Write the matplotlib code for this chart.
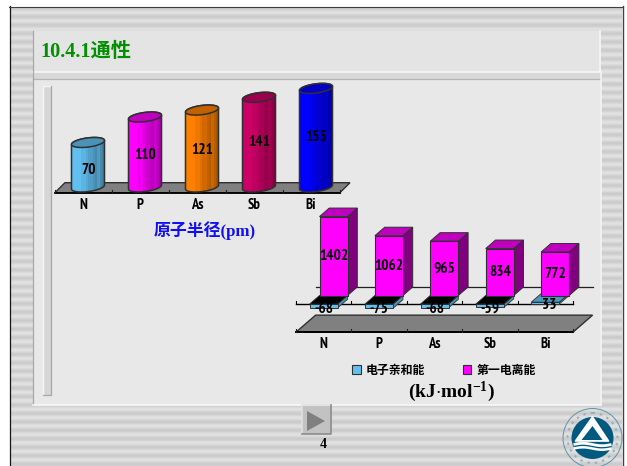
import numpy as np
import matplotlib
matplotlib.use("Agg")
import matplotlib.pyplot as plt
from matplotlib import font_manager as fm
from matplotlib.patches import Polygon, Rectangle, Circle, Patch
from matplotlib.colors import to_rgb

W, H = 627, 466

elements = ["N", "P", "As", "Sb", "Bi"]
radius_pm = [70, 110, 121, 141, 155]
electron_affinity = [-68, -75, -68, -59, 33]
first_ionization = [1402, 1062, 965, 834, 772]

cyl_colors = ["#62c0f0", "#ff00ff", "#ff8000", "#cc0066", "#0000ff"]
affinity_color = "#62c0f0"
ionization_color = "#ff00ff"

title_text = "10.4.1通性"
radius_caption = "原子半径(pm)"
affinity_name = "电子亲和能"
ionization_name = "第一电离能"
page_number = "4"

installed = {f.name for f in fm.fontManager.ttflist}


def first_installed(*names):
    for name in names:
        if name in installed:
            return name
    return "Liberation Serif"


NARROW = first_installed("PT Sans Narrow", "Liberation Sans Narrow")
MIXED = ["Liberation Serif", "Noto Sans CJK SC"]
CJK = ["Noto Sans CJK SC", "DejaVu Sans"]
plt.rcParams["mathtext.fontset"] = "custom"
plt.rcParams["mathtext.rm"] = "Liberation Serif:bold"
plt.rcParams["mathtext.default"] = "rm"


def shade(color, factor):
    return tuple(c * factor for c in to_rgb(color))


def pixel_axes(fig, left, top, right, bottom, zorder):
    ax = fig.add_axes([left / W, 1 - bottom / H, (right - left) / W, (bottom - top) / H], zorder=zorder)
    ax.axis("off")
    ax.patch.set_alpha(0)
    return ax


fig = plt.figure(figsize=(W / 100, H / 100), dpi=100, facecolor="white")

# ---- slide backdrop: striped frame, panels and bevels (pixel coordinates) ----
bg = pixel_axes(fig, 0, 0, W, H, 0)
bg.set_xlim(0, W)
bg.set_ylim(H, 0)
rows = np.arange(H)
stripes = 0.84 + 0.045 * np.cos(2 * np.pi * (rows - 35 - 4.3) / 8.57)
bg.imshow(np.repeat(stripes[:, None], 4, axis=1), cmap="gray", vmin=0, vmax=1,
          extent=[10, 622, 466, 7], aspect="auto", interpolation="bilinear")
bg.set_xlim(0, W)
bg.set_ylim(H, 0)
bg.plot([9.5, 9.5], [6, H], color="#151515", lw=0.9)
bg.plot([9, 622.5], [6.5, 6.5], color="#404040", lw=0.8)
bg.plot([622.5, 622.5], [6, H], color="#404040", lw=1.0)
bg.add_patch(Rectangle((33, 31), 566, 40, fc="#e4e4e4", ec="none"))
bg.plot([33, 600], [71.5, 71.5], color="#f8f8f8", lw=1.2)
bg.plot([600, 600], [31, 71], color="#f8f8f8", lw=1.2)
bg.add_patch(Rectangle((33, 72), 568, 7, fc="#d8d8d8", ec="none"))
bg.plot([33, 601], [79, 79], color="#b4b4b4", lw=0.9)
bg.add_patch(Rectangle((33, 80), 568, 325, fc="#e8e8e8", ec="none"))
bg.plot([33, 33], [31, 405], color="#a8a8a8", lw=0.9)
bg.plot([33, 601], [405, 405], color="#f8f8f8", lw=1.2)
bg.plot([601, 601], [72, 405], color="#f4f4f4", lw=1.2)
bg.add_patch(Rectangle((43, 86), 7.5, 309, fc="#d6d6d6", ec="none"))
bg.plot([43, 43, 50.5], [395, 86, 86], color="#f6f6f6", lw=1)
bg.plot([43, 50.5, 50.5], [395, 395, 86], color="#a8a8a8", lw=0.9)

# navigation button
bg.add_patch(Rectangle((302, 405), 29, 29, fc="#c2c2c2", ec="none"))
bg.plot([302, 302, 331], [434, 405, 405], color="#e0e0e0", lw=1.2)
bg.plot([302, 331, 331], [434, 434, 405], color="#8c8c8c", lw=1.2)
bg.add_patch(Polygon([(307, 411), (307, 431), (325, 421)], fc="#808080", ec="none"))

# university emblem
LOGO = "#005a80"
cx, cy = 592.5, 438
bg.add_patch(Circle((cx, cy), 29.5, fc="none", ec="#5f93ad", lw=0.7))
bg.add_patch(Circle((cx, cy), 25, fc="none", ec="#8fb0c0", lw=1.4, ls=(0, (1.2, 2.6))))
bg.add_patch(Circle((cx, cy), 21, fc=LOGO, ec="none"))
bg.add_patch(Polygon([(cx, cy - 21), (cx + 16, cy + 3), (cx - 17, cy + 3)], closed=True,
                     fc="white", ec="white", lw=1.2, joinstyle="round"))
bg.add_patch(Polygon([(cx, cy - 12), (cx + 10, cy + 2), (cx - 11, cy + 2)], fc=LOGO, ec="none"))
wave_x = np.linspace(cx - 19, cx + 19, 30)
for off, lw_, col in [(6.5, 2.0, "white"), (10.5, 1.8, "white")]:
    bg.plot(wave_x, cy + off + 1.2 * np.sin((wave_x - cx) / 6), color=col, lw=lw_,
            solid_capstyle="butt")

# ---- radius chart: cylinders on a floor ----
PX_CAT_L = 57.0
PX_VAL_L = 0.636
left_l, right_l = 50, 355
top_l, bot_l = 78, 215
zero_l = 187.0
x0_l = 88.0
rad = pixel_axes(fig, left_l, top_l, right_l, bot_l, 2)
rad.set_xlim((left_l - x0_l) / PX_CAT_L, (right_l - x0_l) / PX_CAT_L)
rad.set_ylim((zero_l - bot_l) / PX_VAL_L, (zero_l - top_l) / PX_VAL_L)

floor_front = -5.7 / PX_VAL_L
floor_back = 4.3 / PX_VAL_L
cat_d = 10 / PX_CAT_L
rad.add_patch(Polygon([(-0.58, floor_front), (4.42, floor_front),
                       (4.42 + cat_d, floor_back), (-0.58 + cat_d, floor_back)],
                      fc="#808080", ec="#303030", lw=1))
rad.plot([-0.58, 4.42], [floor_front, floor_front], color="black", lw=1.3)
for k in range(6):
    rad.plot([k - 0.58] * 2, [floor_front, floor_front + 3 / PX_VAL_L], color="#202020", lw=0.8)

semi_a = 16.5 / PX_CAT_L
semi_b = 4.6 / PX_VAL_L
lean = 2.0 / PX_VAL_L
for i, (val, col) in enumerate(zip(radius_pm, cyl_colors)):
    t_low = np.linspace(np.pi, 2 * np.pi, 40)
    t_up = np.linspace(0, np.pi, 40)
    low = np.c_[i + semi_a * np.cos(t_low), semi_b * np.sin(t_low) + lean * np.cos(t_low)]
    up = np.c_[i + semi_a * np.cos(t_up), val + semi_b * np.sin(t_up) + lean * np.cos(t_up)]
    outline = Polygon(np.r_[low, up], closed=True, fc="none", ec="#303030", lw=1.1, zorder=4)
    rad.add_patch(outline)
    n = 14
    edges = np.linspace(-semi_a, semi_a, n + 1)
    pos = (edges[:-1] + edges[1:]) / 2
    # bright on the lit side, falling off in streaks to the right
    factors = [1.0, 1.0, 1.0, 1.0, 0.94, 0.94, 0.88, 0.82, 0.82, 0.76, 0.72, 0.80, 0.72, 0.66]
    bars = rad.bar(i + pos, val + 2 * (semi_b + lean), bottom=-(semi_b + lean),
                   width=edges[1] - edges[0] + 0.002,
                   color=[shade(col, f) for f in factors], zorder=3)
    for b in bars:
        b.set_clip_path(outline)
    t_cap = np.linspace(0, 2 * np.pi, 60)
    cap = np.c_[i + semi_a * np.cos(t_cap), val + semi_b * np.sin(t_cap) + lean * np.cos(t_cap)]
    rad.add_patch(Polygon(cap, closed=True, fc=shade(col, 0.76), ec="#303030", lw=1.1, zorder=5))
    rad.text(i, val * 0.61 - 16, str(val), ha="center", va="center", family=NARROW,
             weight="bold", fontsize=11, zorder=6, color="black")
    rad.text(i - 5 / PX_CAT_L, (zero_l - 205) / PX_VAL_L, elements[i], ha="center", va="center",
             family=NARROW, weight="bold", fontsize=10.5, color="black")

# ---- energy chart: two rows of boxes with a detached floor ----
PX_CAT_R = 55.4
PX_VAL_R = 0.0563
left_r, right_r = 290, 600
top_r, bot_r = 205, 352
zero_r = 304.0
x0_r = 323.7
eng = pixel_axes(fig, left_r, top_r, right_r, bot_r, 3)
eng.set_xlim((left_r - x0_r) / PX_CAT_R, (right_r - x0_r) / PX_CAT_R)
eng.set_ylim((zero_r - bot_r) / PX_VAL_R, (zero_r - top_r) / PX_VAL_R)

dx = 9.8 / PX_CAT_R
dy = 8.5 / PX_VAL_R
bw = 28 / PX_CAT_R
x_lo, x_hi = -0.5, 4.5
FLOOR_VALUE = -500

eng.add_patch(Polygon([(x_lo, FLOOR_VALUE), (x_hi, FLOOR_VALUE), (x_hi + 2 * dx, FLOOR_VALUE + 2 * dy),
                       (x_lo + 2 * dx, FLOOR_VALUE + 2 * dy)], fc="#808080", ec="#303030", lw=1))
eng.plot([x_lo, x_hi], [FLOOR_VALUE, FLOOR_VALUE], color="black", lw=1.4)
eng.plot([x_lo + 2 * dx, x_hi + 2 * dx], [2 * dy, 2 * dy], color="#202020", lw=0.9, zorder=1)
eng.plot([x_lo, x_hi], [0, 0], color="black", lw=1, zorder=1)
for k in range(6):
    eng.plot([x_lo + k] * 2, [0, 3 / PX_VAL_R], color="black", lw=0.8, zorder=1)
    eng.plot([x_lo + k] * 2, [FLOOR_VALUE, FLOOR_VALUE + 3 / PX_VAL_R], color="#202020", lw=0.8)

for i, val in enumerate(electron_affinity):
    l, r = i - bw / 2, i + bw / 2
    top = max(val, 0)
    low = min(val, 0)
    eng.add_patch(Polygon([(r, low), (r + dx, low + dy), (r + dx, top + dy), (r, top)],
                          fc=shade(affinity_color, 0.75), ec="#303030", lw=0.6, zorder=2))
    top_col = "black" if val < 0 else shade(affinity_color, 0.78)
    eng.add_patch(Polygon([(l, top), (r, top), (r + dx, top + dy), (l + dx, top + dy)],
                          fc=top_col, ec="#303030", lw=0.6, zorder=2))
    eng.bar(i, val, width=bw, color=affinity_color, edgecolor="#303030", lw=0.7, zorder=2.5)
    label_y = -85 if val < 0 else -15
    label_x = i if val < 0 else i + 3.5 / PX_CAT_R
    eng.text(label_x, label_y, str(val), ha="center", va="center", family=NARROW, weight="bold",
             fontsize=11, zorder=2.6, color="black")

for i, val in enumerate(first_ionization):
    l, r = i + dx - bw / 2, i + dx + bw / 2
    col = ionization_color
    eng.add_patch(Polygon([(r, dy), (r + dx, 2 * dy), (r + dx, val + 2 * dy), (r, val + dy)],
                          fc=shade(col, 0.5), ec="#303030", lw=0.7, zorder=3))
    eng.add_patch(Polygon([(l, val + dy), (r, val + dy), (r + dx, val + 2 * dy), (l + dx, val + 2 * dy)],
                          fc=shade(col, 0.75), ec="#303030", lw=0.7, zorder=3))
    eng.bar(i + dx, val, bottom=dy, width=bw, color=col, edgecolor="#303030", lw=0.8, zorder=3.2)
    eng.text(i + dx, dy + val / 2, str(val), ha="center", va="center", family=NARROW,
             weight="bold", fontsize=11, zorder=4, color="black")
    eng.text(i, (zero_r - 344) / PX_VAL_R, elements[i], ha="center", va="center", family=NARROW,
             weight="bold", fontsize=10.5, color="black")

legend = fig.legend(
    handles=[Patch(fc=affinity_color, ec="#303030", lw=0.8, label=affinity_name),
             Patch(fc=ionization_color, ec="#303030", lw=0.8, label=ionization_name)],
    ncol=2, frameon=False, loc="center", bbox_to_anchor=(444 / W, 1 - 370 / H),
    prop=fm.FontProperties(family=CJK, weight="bold", size=8.6),
    handlelength=0.75, handleheight=0.8, handletextpad=0.4, columnspacing=3.1, borderpad=0)
legend.set_zorder(6)

# ---- text that sits directly on the slide ----
txt = pixel_axes(fig, 0, 0, W, H, 5)
txt.set_xlim(0, W)
txt.set_ylim(H, 0)
txt.text(40, 52, title_text, ha="left", va="center", color="#009000", family=MIXED,
         weight="bold", fontsize=14.6)
txt.text(154, 231, radius_caption, ha="left", va="center", color="#1010f0", family=MIXED,
         weight="bold", fontsize=12.2)
txt.text(451, 392, r"$\mathrm{(kJ{\cdot}mol^{-1})}$", ha="center", va="center", color="black",
         fontsize=14)
txt.text(323, 445, page_number, ha="center", va="center", color="black",
         family="Liberation Serif", weight="bold", fontsize=10)

fig.savefig("out.png", dpi=100)
